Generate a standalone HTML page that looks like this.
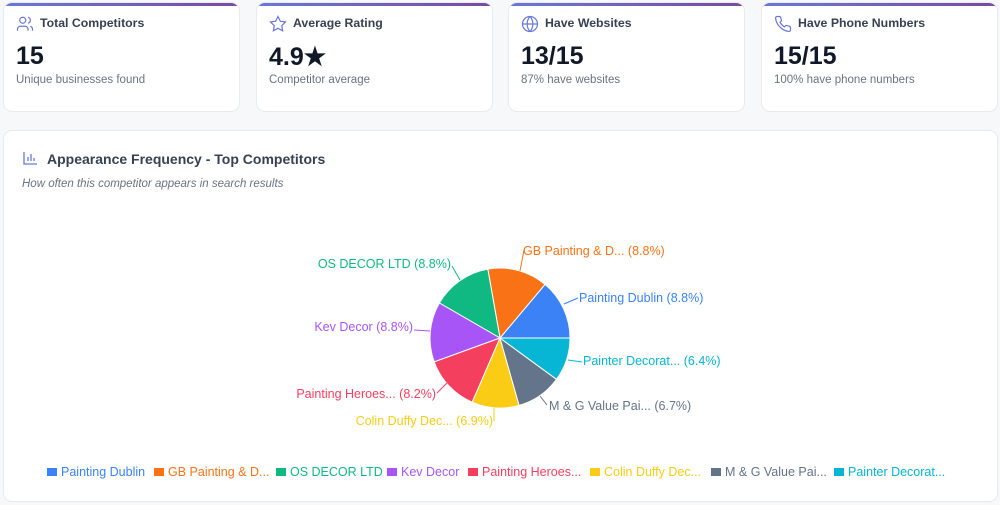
<!DOCTYPE html>
<html><head><style>
body{margin:0;width:1000px;height:505px;background:#f7f8fa;font-family:"Liberation Sans",sans-serif;position:relative;overflow:hidden}
.card{position:absolute;top:2px;height:110px;width:237px;background:#fff;border:1px solid #e8eaee;border-radius:9px;box-sizing:border-box;overflow:hidden}
.card:before{content:"";position:absolute;left:0;right:0;top:0;height:3px;background:linear-gradient(90deg,#6878d8,#7b4aa0)}
.ic{position:absolute;left:12px;top:12px}
.t{position:absolute;left:36px;top:13px;font-size:12.3px;font-weight:bold;color:#374151}
.n{position:absolute;left:12px;top:39px;font-size:25px;font-weight:bold;color:#111827}
.s{position:absolute;left:12px;top:71px;font-size:11.5px;color:#6b7280}
.big{position:absolute;left:3px;top:130px;width:995px;height:372px;background:#fff;border:1px solid #e8eaee;border-radius:9px;box-sizing:border-box}
.lg{position:absolute;top:465px;font-size:12.5px;white-space:nowrap}
.lg i{display:inline-block;width:10px;height:8px;margin-right:4px;vertical-align:0px}
</style></head><body>
<div class="card" style="left:3px"><svg class="ic" width="18" height="18" viewBox="0 0 24 24" fill="none" stroke="#6878d8" stroke-width="1.6"><circle cx="9" cy="7" r="4"/><path d="M2 21v-2a4 4 0 0 1 4-4h6a4 4 0 0 1 4 4v2M16 3.1a4 4 0 0 1 0 7.8M22 21v-2a4 4 0 0 0-3-3.9"/></svg><div class="t">Total Competitors</div><div class="n">15</div><div class="s">Unique businesses found</div></div>
<div class="card" style="left:256px"><svg class="ic" width="18" height="18" viewBox="0 0 24 24" fill="none" stroke="#6878d8" stroke-width="1.6"><path d="M12 2l3.1 6.3 6.9 1-5 4.9 1.2 6.8L12 17.8 5.8 21l1.2-6.8-5-4.9 6.9-1z"/></svg><div class="t">Average Rating</div><div class="n">4.9★</div><div class="s">Competitor average</div></div>
<div class="card" style="left:508px"><svg class="ic" width="18" height="18" viewBox="0 0 24 24" fill="none" stroke="#6878d8" stroke-width="1.6"><circle cx="12" cy="12" r="10"/><path d="M2 12h20M12 2a15 15 0 0 1 0 20M12 2a15 15 0 0 0 0 20"/></svg><div class="t">Have Websites</div><div class="n">13/15</div><div class="s">87% have websites</div></div>
<div class="card" style="left:761px"><svg class="ic" width="18" height="18" viewBox="0 0 24 24" fill="none" stroke="#6878d8" stroke-width="1.6"><path d="M22 16.9v3a2 2 0 0 1-2.2 2 19.8 19.8 0 0 1-8.6-3.1 19.5 19.5 0 0 1-6-6A19.8 19.8 0 0 1 2.1 4.2 2 2 0 0 1 4.1 2h3a2 2 0 0 1 2 1.7c.1.9.4 1.8.7 2.7a2 2 0 0 1-.5 2.1L8 9.8a16 16 0 0 0 6 6l1.3-1.3a2 2 0 0 1 2.1-.4c.9.3 1.8.6 2.7.7a2 2 0 0 1 1.7 2z"/></svg><div class="t">Have Phone Numbers</div><div class="n">15/15</div><div class="s">100% have phone numbers</div></div>
<div class="big">
<svg style="position:absolute;left:19px;top:20px" width="15" height="14" viewBox="0 0 15 14" fill="none" stroke="#6878d8" stroke-width="1.3"><path d="M1 1v12h13M5 10V6M8 10V3M11 10V7"/></svg>
<div style="position:absolute;left:43px;top:20px;font-size:14px;font-weight:bold;color:#374151">Appearance Frequency - Top Competitors</div>
<div style="position:absolute;left:18px;top:47px;font-size:11.5px;font-style:italic;color:#6b7280">How often this competitor appears in search results</div>
</div>
<svg style="position:absolute;left:0;top:0" width="1000" height="505" font-family="Liberation Sans, sans-serif" font-size="12.5">
<g stroke="#fff" stroke-width="1">
<path d="M500 338L570 338A70 70 0 0 0 545 284.4Z" fill="#3b82f6"/>
<path d="M500 338L545 284.4A70 70 0 0 0 487.8 269.1Z" fill="#f97316"/>
<path d="M500 338L487.8 269.1A70 70 0 0 0 439.4 303Z" fill="#10b981"/>
<path d="M500 338L439.4 303A70 70 0 0 0 434.2 361.9Z" fill="#a855f7"/>
<path d="M500 338L434.2 361.9A70 70 0 0 0 472.2 402.2Z" fill="#f43f5e"/>
<path d="M500 338L472.2 402.2A70 70 0 0 0 519.1 405.4Z" fill="#facc15"/>
<path d="M500 338L519.1 405.4A70 70 0 0 0 556.5 379.3Z" fill="#64748b"/>
<path d="M500 338L556.5 379.3A70 70 0 0 0 570 338Z" fill="#06b6d4"/>
</g>
<g fill="none" stroke-width="1">
<path d="M564 304L578 298" stroke="#3b82f6"/>
<path d="M520 271L524 250" stroke="#f97316"/>
<path d="M460 280L452 266" stroke="#10b981"/>
<path d="M430 331L414 330" stroke="#a855f7"/>
<path d="M447 383L437 393" stroke="#f43f5e"/>
<path d="M494 408L494 421" stroke="#facc15"/>
<path d="M540 396L547 405" stroke="#64748b"/>
<path d="M568 360L582 362" stroke="#06b6d4"/>
</g>
<text x="579" y="302" fill="#3b82f6">Painting Dublin (8.8%)</text>
<text x="523" y="255" fill="#f97316">GB Painting &amp; D... (8.8%)</text>
<text x="451" y="268" fill="#10b981" text-anchor="end">OS DECOR LTD (8.8%)</text>
<text x="413" y="331" fill="#a855f7" text-anchor="end">Kev Decor (8.8%)</text>
<text x="436" y="398" fill="#f43f5e" text-anchor="end">Painting Heroes... (8.2%)</text>
<text x="493" y="425" fill="#facc15" text-anchor="end">Colin Duffy Dec... (6.9%)</text>
<text x="549" y="410" fill="#64748b">M &amp; G Value Pai... (6.7%)</text>
<text x="583" y="365" fill="#06b6d4">Painter Decorat... (6.4%)</text>
</svg>
<div class="lg" style="left:47px;color:#3b82f6"><i style="background:#3b82f6"></i>Painting Dublin</div>
<div class="lg" style="left:154px;color:#f97316"><i style="background:#f97316"></i>GB Painting &amp; D...</div>
<div class="lg" style="left:276px;color:#10b981"><i style="background:#10b981"></i>OS DECOR LTD</div>
<div class="lg" style="left:387px;color:#a855f7"><i style="background:#a855f7"></i>Kev Decor</div>
<div class="lg" style="left:468px;color:#f43f5e"><i style="background:#f43f5e"></i>Painting Heroes...</div>
<div class="lg" style="left:590px;color:#facc15"><i style="background:#facc15"></i>Colin Duffy Dec...</div>
<div class="lg" style="left:711px;color:#64748b"><i style="background:#64748b"></i>M &amp; G Value Pai...</div>
<div class="lg" style="left:834px;color:#06b6d4"><i style="background:#06b6d4"></i>Painter Decorat...</div>
</body></html>
